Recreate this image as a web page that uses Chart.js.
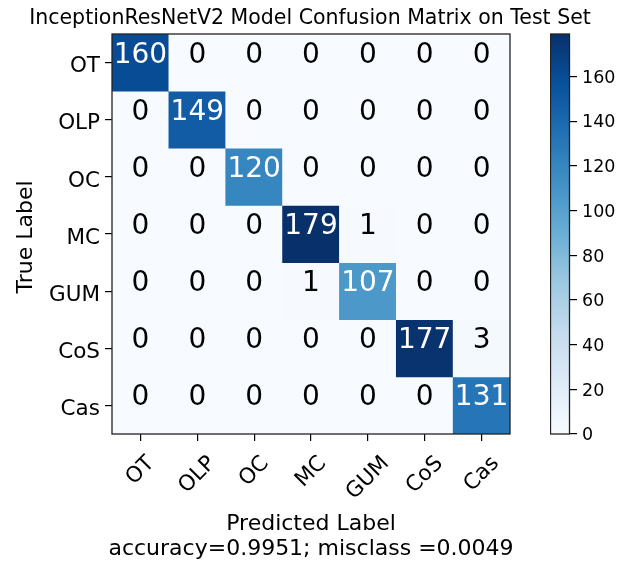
<!DOCTYPE html>
<html>
<head>
<meta charset="utf-8">
<title>InceptionResNetV2 Confusion Matrix</title>
<script src="https://cdn.jsdelivr.net/npm/chart.js@4.4.0/dist/chart.umd.min.js"></script>
<style>
  body { margin: 0; background: #fff; }
  #wrap { position: relative; width: 624px; height: 564px; }
  #matrix { position: absolute; left: 0; top: 0; }
  #cbar { position: absolute; left: 550px; top: 0; }
</style>
</head>
<body>
<div id="wrap">
  <canvas id="matrix" width="624" height="564"></canvas>
  <canvas id="cbar" width="74" height="564"></canvas>
</div>
<script>
// class names, same order on both axes
const classes = ['OT', 'OLP', 'OC', 'MC', 'GUM', 'CoS', 'Cas'];

// one array per true label, columns = predicted label
const rowOT  = [160, 0, 0, 0, 0, 0, 0];
const rowOLP = [0, 149, 0, 0, 0, 0, 0];
const rowOC  = [0, 0, 120, 0, 0, 0, 0];
const rowMC  = [0, 0, 0, 179, 1, 0, 0];
const rowGUM = [0, 0, 0, 1, 107, 0, 0];
const rowCoS = [0, 0, 0, 0, 0, 177, 3];
const rowCas = [0, 0, 0, 0, 0, 0, 131];
const matrix = [rowOT, rowOLP, rowOC, rowMC, rowGUM, rowCoS, rowCas];

const colorbarTicks = [0, 20, 40, 60, 80, 100, 120, 140, 160];

const titleText = 'InceptionResNetV2 Model Confusion Matrix on Test Set';
const xTitle = 'Predicted Label';
const yTitle = 'True Label';
const statsText = 'accuracy=0.9951; misclass =0.0049';

const vmax = Math.max(...matrix.flat());

// matplotlib "Blues" colormap stops
const blues = [[247,251,255],[222,235,247],[198,219,239],[158,202,225],[107,174,214],
               [66,146,198],[33,113,181],[8,81,156],[8,48,107]];

function bluesColor(t) {
  t = Math.min(1, Math.max(0, t));
  const p = t * (blues.length - 1);
  const i = Math.min(Math.floor(p), blues.length - 2);
  const f = p - i;
  const c = blues[i].map((v, k) => Math.round(v + (blues[i + 1][k] - v) * f));
  return `rgb(${c[0]},${c[1]},${c[2]})`;
}

Chart.defaults.font.family = '"DejaVu Sans", sans-serif';
Chart.defaults.color = '#000';

// each row of the matrix is a dataset of floating bars [i, i+1]
const datasets = matrix.map((row, i) => ({
  label: classes[i],
  data: row.map(() => [i, i + 1]),
  counts: row,
  backgroundColor: row.map(v => bluesColor(v / vmax)),
  borderWidth: 0,
  barPercentage: 1,
  categoryPercentage: 1,
  grouped: false
}));

// numbers in the cells, frame, tick labels and titles
const matrixText = {
  id: 'matrixText',
  afterDatasetsDraw(chart) {
    const ctx = chart.ctx;
    const area = chart.chartArea;
    const xs = chart.scales.x;
    const ys = chart.scales.y;
    ctx.save();

    ctx.font = '28px "DejaVu Sans"';
    ctx.textAlign = 'center';
    ctx.textBaseline = 'alphabetic';
    chart.data.datasets.forEach((ds, i) => {
      chart.getDatasetMeta(i).data.forEach((bar, j) => {
        const v = ds.counts[j];
        ctx.fillStyle = v > vmax / 2 ? '#fff' : '#000';
        ctx.fillText(String(v), bar.x, (bar.y + bar.base) / 2 + 0);
      });
    });

    // frame
    ctx.strokeStyle = '#222';
    ctx.lineWidth = 1.3;
    ctx.strokeRect(area.left, area.top, area.right - area.left, area.bottom - area.top);

    ctx.fillStyle = '#000';
    // y tick labels
    ctx.font = '21.5px "DejaVu Sans"';
    ctx.textAlign = 'right';
    classes.forEach((c, i) => {
      const py = ys.getPixelForValue(i + 0.5);
      ctx.fillText(c, area.left - 12, py + 9.7);
    });

    // x tick labels, rotated 45 and centred under the tick
    const capH = 0.73 * 21.5;
    ctx.textAlign = 'center';
    classes.forEach((c, j) => {
      const px = xs.getPixelForValue(j);
      const w = ctx.measureText(c).width;
      const half = (w + capH) / (2 * Math.SQRT2);
      ctx.save();
      ctx.translate(px - 1.5, area.bottom + 19 + half);
      ctx.rotate(-Math.PI / 4);
      ctx.fillText(c, 0, capH / 2);
      ctx.restore();
    });

    const midX = (area.left + area.right) / 2;
    ctx.font = '22px "DejaVu Sans"';
    ctx.fillText(xTitle, midX, 530);
    ctx.fillText(statsText, midX, 555);

    ctx.save();
    ctx.translate(32, (area.top + area.bottom) / 2 + 3);
    ctx.rotate(-Math.PI / 2);
    ctx.fillText(yTitle, 0, 0);
    ctx.restore();

    ctx.font = '20.5px "DejaVu Sans"';
    ctx.fillText(titleText, midX - 1, 24);

    ctx.restore();
  }
};

const tickGrid = { offset: false, drawOnChartArea: false, drawTicks: true, tickLength: 7, color: '#000', lineWidth: 1.2 };

new Chart(document.getElementById('matrix'), {
  type: 'bar',
  data: { labels: classes, datasets: datasets },
  options: {
    responsive: false,
    animation: false,
    layout: { padding: { left: 0, right: 114, top: 34, bottom: 0 } },
    plugins: { legend: { display: false }, title: { display: false }, tooltip: { enabled: false } },
    scales: {
      x: {
        type: 'category',
        offset: true,
        grid: tickGrid,
        border: { display: false },
        ticks: { display: false },
        afterFit: s => { s.height = 130; }
      },
      y: {
        type: 'linear',
        min: 0,
        max: classes.length,
        reverse: true,
        afterBuildTicks: s => { s.ticks = classes.map((c, i) => ({ value: i + 0.5 })); },
        grid: tickGrid,
        border: { display: false },
        ticks: { display: false },
        afterFit: s => { s.width = 112; }
      }
    }
  },
  plugins: [matrixText]
});

// colour bar frame and tick labels
const cbarText = {
  id: 'cbarText',
  afterDatasetsDraw(chart) {
    const a = chart.chartArea;
    const ys = chart.scales.y;
    const ctx = chart.ctx;
    ctx.save();
    ctx.strokeStyle = '#222';
    ctx.lineWidth = 1.3;
    ctx.strokeRect(a.left + 0.5, a.top, a.right - a.left - 1, a.bottom - a.top);
    ctx.fillStyle = '#000';
    ctx.font = '17.5px "DejaVu Sans"';
    ctx.textAlign = 'left';
    ctx.textBaseline = 'alphabetic';
    colorbarTicks.forEach(v => {
      ctx.fillText(String(v), a.right + 12, ys.getPixelForValue(v) + 6.3);
    });
    ctx.restore();
  }
};

// colour bar: one floating bar 0..vmax with the Blues gradient
new Chart(document.getElementById('cbar'), {
  type: 'bar',
  data: {
    labels: ['count'],
    datasets: [{
      data: [[0, vmax]],
      backgroundColor(c) {
        const ys = c.chart.scales.y;
        const y0 = ys ? ys.getPixelForValue(0) : NaN;
        const y1 = ys ? ys.getPixelForValue(vmax) : NaN;
        if (!isFinite(y0) || !isFinite(y1) || y0 === y1) return bluesColor(0.5);
        const g = c.chart.ctx.createLinearGradient(0, y0, 0, y1);
        blues.forEach((col, k) => g.addColorStop(k / (blues.length - 1), `rgb(${col.join(',')})`));
        return g;
      },
      borderWidth: 0,
      barPercentage: 1,
      categoryPercentage: 1
    }]
  },
  options: {
    responsive: false,
    animation: false,
    layout: { padding: { left: 0, right: 0, top: 34, bottom: 130 } },
    plugins: { legend: { display: false }, tooltip: { enabled: false } },
    scales: {
      x: { display: false },
      y: {
        position: 'right',
        min: 0,
        max: vmax,
        afterBuildTicks: s => { s.ticks = colorbarTicks.map(v => ({ value: v })); },
        ticks: { display: false },
        grid: { drawOnChartArea: false, drawTicks: true, tickLength: 7, color: '#000', lineWidth: 1.2 },
        border: { display: false },
        afterFit: s => { s.width = 54; }
      }
    }
  },
  plugins: [cbarText]
});
</script>
</body>
</html>
